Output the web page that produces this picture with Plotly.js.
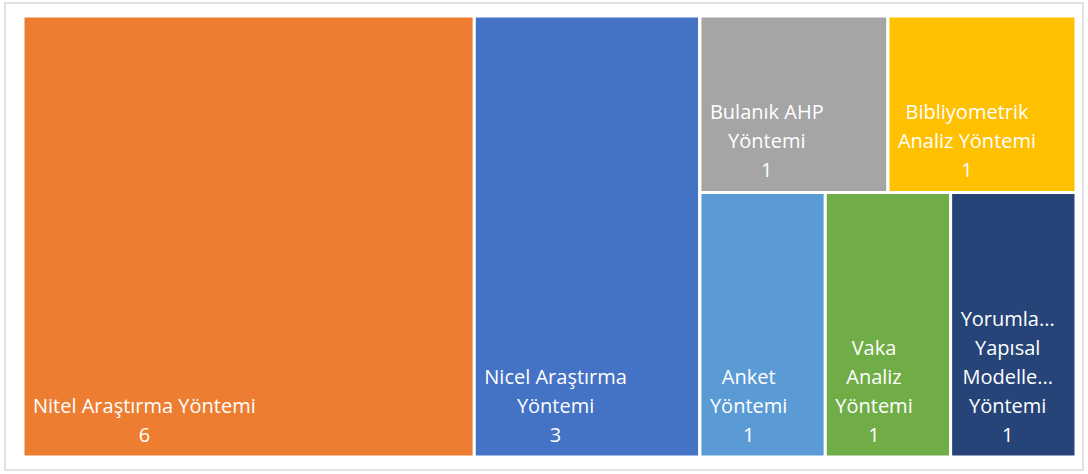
<!DOCTYPE html>
<html>
<head>
<meta charset="utf-8">
<script src="https://cdn.plot.ly/plotly-3.0.1.min.js"></script>
<style>html,body{margin:0;padding:0;background:#fff;}#chart{width:1088px;height:474px;}</style>
</head>
<body>
<div id="chart"></div>
<script>
// Categories (as shown in the chart) and their counts
const categories = [
  "Nitel Araştırma Yöntemi",
  "Nicel Araştırma<br>Yöntemi",
  "Bulanık AHP<br>Yöntemi",
  "Bibliyometrik<br>Analiz Yöntemi",
  "Anket<br>Yöntemi",
  "Vaka<br>Analiz<br>Yöntemi",
  "Yorumla...<br>Yapısal<br>Modelle...<br>Yöntemi"
];
const values = [6, 3, 1, 1, 1, 1, 1];
// grouping used only to reproduce the arrangement of the tiles
const groupOf = ["", "", "top", "top", "bottom", "bottom", "bottom"];
const colors = ["#ED7D31", "#4472C4", "#A5A5A5", "#FFC000", "#5B9BD5", "#70AD47", "#264478"];

const FONT_SIZE = 20, LINE_PITCH = 29, PAD_LEFT = 10, PAD_BOTTOM = 15;

const ids = [], labels = [], parents = [], vals = [], cols = [], tmpl = [];
function sum(g){ let s=0; values.forEach((v,i)=>{ if(groupOf[i]===g) s+=v; }); return s; }
categories.forEach((c,i)=>{
  if (groupOf[i] !== "") return;
  ids.push("c"+i); labels.push(c); parents.push(""); vals.push(values[i]); cols.push(colors[i]);
  tmpl.push("%{label}<br>%{value}");
});
ids.push("rest"); labels.push(" "); parents.push(""); vals.push(sum("top")+sum("bottom")); cols.push("rgba(0,0,0,0)"); tmpl.push(" ");
ids.push("top"); labels.push(" "); parents.push("rest"); vals.push(sum("top")); cols.push("rgba(0,0,0,0)"); tmpl.push(" ");
ids.push("bottom"); labels.push(" "); parents.push("rest"); vals.push(sum("bottom")); cols.push("rgba(0,0,0,0)"); tmpl.push(" ");
categories.forEach((c,i)=>{
  if (groupOf[i] === "") return;
  ids.push("c"+i); labels.push(c); parents.push(groupOf[i]); vals.push(values[i]); cols.push(colors[i]);
  tmpl.push("%{label}<br>%{value}");
});

const trace = {
  type: "treemap",
  ids: ids, labels: labels, parents: parents, values: vals,
  branchvalues: "total",
  sort: false,
  tiling: {packing: "slice-dice", pad: 0},
  marker: {colors: cols, line: {color: "#ffffff", width: 3}, pad: {t:0, l:0, r:0, b:0}},
  pathbar: {visible: false},
  texttemplate: tmpl,
  textposition: "bottom left",
  textfont: {family: "Open Sans, sans-serif", size: FONT_SIZE, color: "#ffffff"},
  hoverinfo: "label+value"
};

const layout = {
  width: 1088, height: 474,
  margin: {l: 23, r: 12, t: 16, b: 17},
  paper_bgcolor: "#ffffff",
  showlegend: false,
  shapes: [{
    type: "rect", xref: "paper", yref: "paper",
    x0: -0.0171, x1: 1.0066, y0: -0.0295, y1: 1.0295,
    line: {color: "#d9d9d9", width: 1.5}, fillcolor: "rgba(0,0,0,0)", layer: "below"
  }]
};

// Excel-style label block: lines centred on each other, block anchored at the bottom-left of the tile
function restyleLabels(gd){
  gd.querySelectorAll("g.slice").forEach(sl => {
    const path = sl.querySelector("path.surface");
    const txt = sl.querySelector("text.slicetext");
    if (!path || !txt || !txt.textContent.trim()) return;
    const b = path.getBBox();
    txt.setAttribute("transform", "");
    txt.setAttribute("x", 0); txt.setAttribute("y", 0);
    txt.style.fontSize = FONT_SIZE + "px";
    txt.setAttribute("text-anchor", "middle");
    let lines = Array.from(txt.querySelectorAll("tspan.line"));
    if (!lines.length) lines = [txt];
    let maxW = 0;
    lines.forEach(l => { maxW = Math.max(maxW, l.getComputedTextLength()); });
    const cx = b.x + PAD_LEFT + maxW / 2;
    const n = lines.length;
    const lastY = b.y + b.height - PAD_BOTTOM;
    lines.forEach((l, i) => {
      l.removeAttribute("dy");
      l.setAttribute("x", cx);
      l.setAttribute("y", lastY - (n - 1 - i) * LINE_PITCH);
      l.style.textAnchor = "middle";
    });
  });
}

Plotly.newPlot("chart", [trace], layout, {displayModeBar: false, staticPlot: true})
  .then(gd => restyleLabels(gd));
</script>
</body>
</html>
